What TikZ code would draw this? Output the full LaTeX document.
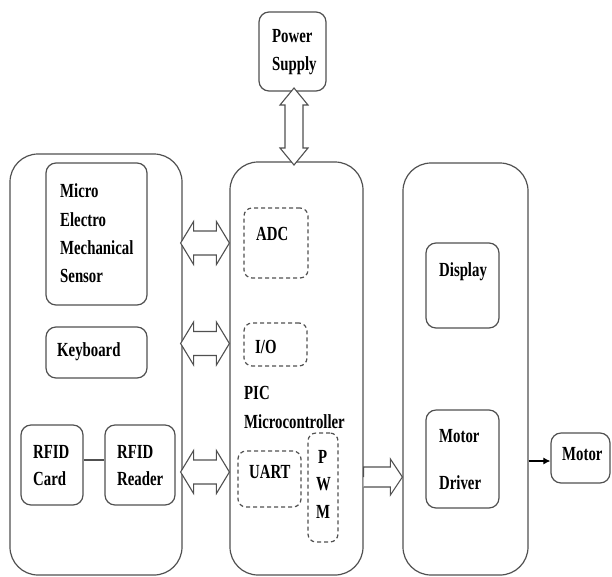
\documentclass[tikz,border=0pt]{standalone}
\usepackage{fontspec}
\setmainfont{Liberation Serif}[FakeStretch=0.74]
\usetikzlibrary{calc,arrows.meta}
\definecolor{ln}{HTML}{505050}
\newcommand\hdarrow[2]{\draw[hollow] (#1) -- ($(#1)+(13,-21.5)$) -- ($(#1)+(13,-12)$) -- ($(#2)+(-13,-12)$) -- ($(#2)+(-13,-21.5)$) -- (#2) -- ($(#2)+(-13,21.5)$) -- ($(#2)+(-13,12)$) -- ($(#1)+(13,12)$) -- ($(#1)+(13,21.5)$) -- cycle;}
\begin{document}
\begin{tikzpicture}[x=1pt,y=-1pt,
  bigbox/.style={draw=ln,line width=1.2pt,rounded corners=28pt,rectangle,inner sep=0pt},
  smallbox/.style={draw=ln,line width=1.2pt,rounded corners=10pt,rectangle,inner sep=0pt},
  dbox/.style={draw=ln,line width=1.2pt,dashed,dash pattern=on 4pt off 3pt,rounded corners=8pt,rectangle,inner sep=0pt},
  hollow/.style={draw=ln,line width=1.1pt,fill=white,line join=miter},
  txt/.style={anchor=base west,inner sep=0pt,font=\fontsize{20}{24}\selectfont\bfseries}]
\useasboundingbox (0,0) rectangle (612,576);
% boxes
\node[bigbox,minimum width=172pt,minimum height=421pt] (L) at (96,364.5) {};
\node[smallbox,minimum width=101pt,minimum height=142pt] (MEMS) at (96.5,234) {};
\node[smallbox,minimum width=101pt,minimum height=51pt] (KB) at (96.5,352.5) {};
\node[smallbox,minimum width=62pt,minimum height=80pt] (Card) at (52,465) {};
\node[smallbox,minimum width=70pt,minimum height=80pt] (Reader) at (140,465) {};
\node[smallbox,minimum width=67pt,minimum height=79pt] (PS) at (292.5,51.5) {};
\node[bigbox,minimum width=133pt,minimum height=413pt] (PIC) at (296.5,368.5) {};
\node[dbox,minimum width=64pt,minimum height=70pt] (ADC) at (276,243) {};
\node[dbox,minimum width=63pt,minimum height=43pt] (IO) at (275.5,344.5) {};
\node[dbox,minimum width=63pt,minimum height=56pt] (UART) at (269.5,479) {};
\node[dbox,minimum width=30pt,minimum height=109pt] (PWM) at (323,487.5) {};
\node[bigbox,minimum width=125pt,minimum height=412pt] (R) at (465.5,369) {};
\node[smallbox,minimum width=73pt,minimum height=85pt] (Disp) at (462.5,285.5) {};
\node[smallbox,minimum width=73pt,minimum height=98pt] (Drv) at (462.5,459) {};
\node[smallbox,minimum width=59pt,minimum height=50pt] (Mot) at (580.5,458) {};
% texts
\node[txt] (t1) at (272,42) {Power};
\node[txt] (t2) at (272,70) {Supply};
\node[txt] (t3) at (60,197) {Micro};
\node[txt] (t4) at (60,226) {Electro};
\node[txt] (t5) at (60,254) {Mechanical};
\node[txt] (t6) at (60,282) {Sensor};
\node[txt] (t7) at (57,356) {Keyboard};
\node[txt] (t8) at (33,458) {RFID};
\node[txt] (t9) at (33,485) {Card};
\node[txt] (t10) at (117,458) {RFID};
\node[txt] (t11) at (117,485) {Reader};
\node[txt] (t12) at (256,240) {ADC};
\node[txt] (t13) at (255,353) {I/O};
\node[txt] (t14) at (244,399) {PIC};
\node[txt] (t15) at (244,428) {Microcontroller};
\node[txt] (t16) at (249,478) {UART};
\node[txt] (t17) at (318,463) {P};
\node[txt] (t18) at (316,490) {W};
\node[txt] (t19) at (316,518) {M};
\node[txt] (t20) at (439,276) {Display};
\node[txt] (t21) at (439,442) {Motor};
\node[txt] (t22) at (439,489) {Driver};
\node[txt] (t23) at (562,460) {Motor};
% connectors
\coordinate (a1l) at ($(L.east |- ADC.center)+(-2,0)$);
\coordinate (a1r) at (PIC.west |- ADC.center);
\coordinate (a2l) at ($(L.east |- IO.center)+(-2,-1)$);
\coordinate (a2r) at ($(PIC.west |- IO.center)+(0,-1)$);
\coordinate (a3l) at ($(L.east |- 0,472)+(-2,0)$);
\coordinate (a3r) at (PIC.west |- 0,472);
\hdarrow{a1l}{a1r}
\hdarrow{a2l}{a2r}
\hdarrow{a3l}{a3r}
\coordinate (pt) at (294,88);
\coordinate (pb) at (294,165);
\draw[hollow] (pt) -- ($(pt)+(-14,17)$) -- ($(pt)+(-9,17)$) -- ($(pb)+(-9,-17)$) -- ($(pb)+(-14,-17)$) -- (pb) -- ($(pb)+(14,-17)$) -- ($(pb)+(9,-17)$) -- ($(pt)+(9,17)$) -- ($(pt)+(14,17)$) -- cycle;
\coordinate (rl) at (PIC.east |- 0,477);
\coordinate (rr) at (R.west |- 0,477);
\draw[hollow] (rl) -- ($(rl)+(0,-10)$) -- ($(rr)+(-12,-10)$) -- ($(rr)+(-12,-18)$) -- (rr) -- ($(rr)+(-12,18)$) -- ($(rr)+(-12,10)$) -- ($(rl)+(0,10)$);
\draw[line width=1.1pt,-{Latex[length=7pt,width=7pt]}] (R.east |- 0,461) -- (Mot.west |- 0,461);
\draw[draw=ln,line width=1.2pt] (Card.east |- 0,460) -- (Reader.west |- 0,460);
\end{tikzpicture}
\end{document}
